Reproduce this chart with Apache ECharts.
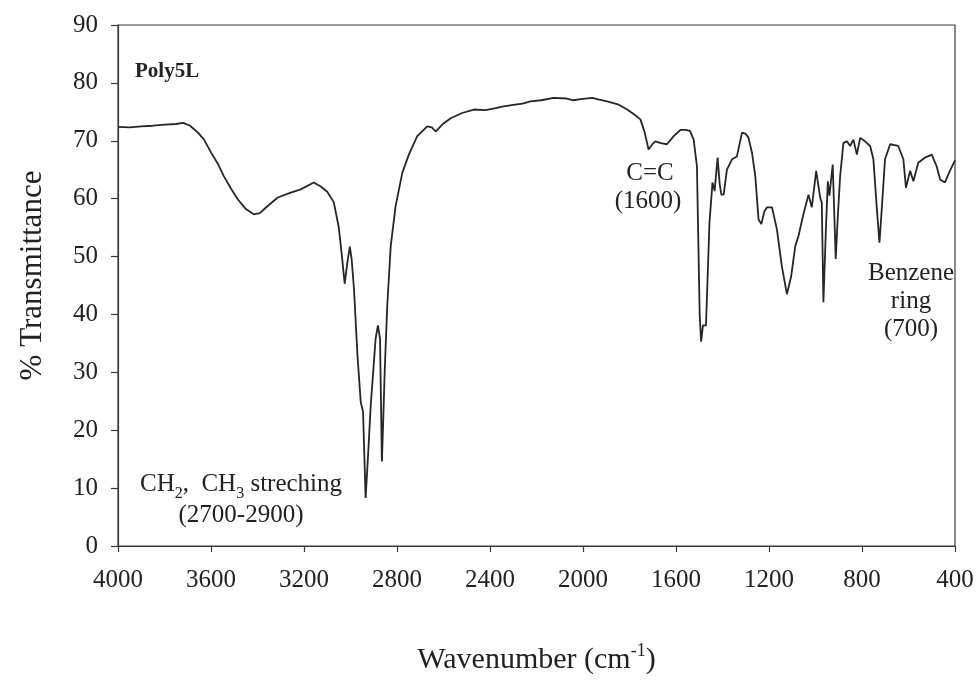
<!DOCTYPE html>
<html>
<head>
<meta charset="utf-8">
<script src="https://cdn.jsdelivr.net/npm/echarts@6/dist/echarts.min.js"></script>
<style>
html,body{margin:0;padding:0;background:#fff;}
#c{width:977px;height:680px;}
</style>
</head>
<body>
<div id="c"></div>
<script>
// Wavenumbers (cm-1)
var wavenumber = [
4000,3950,3900,3850,3800,3750,3720,3690,3656,3630,3600,3570,3545,3515,3485,3450,3416,3390,3360,3313,
3260,3214,3158,3128,3100,3072,3051,3038,3025,3015,3003,2995,2985,2970,2956,2946,2935,2924,2913,2892,
2882,2873,2867,2865,2859,2853,2842,2827,2806,2777,2749,2713,2670,2650,2634,2600,2569,2520,2469,2420,
2380,2347,2300,2260,2226,2180,2126,2070,2040,2011,1960,1930,1896,1850,1810,1775,1753,1735,1718,1700,
1689,1665,1639,1610,1580,1560,1540,1524,1510,1498,1492,1484,1471,1456,1443,1434,1421,1412,1405,1395,
1381,1359,1338,1316,1300,1288,1273,1259,1245,1233,1220,1209,1187,1166,1145,1123,1105,1087,1073,1052,
1030,1016,997,980,973,966,955,947,940,926,913,904,894,880,865,851,837,822,808,787,
765,751,736,725,715,701,679,644,622,611,593,579,558,529,500,479,464,443,422,400
];
// % Transmittance at each wavenumber
var transmittance = [
72.4,72.3,72.5,72.6,72.8,72.9,73.1,72.6,71.4,70.2,68.0,66.0,63.9,61.8,59.9,58.2,57.3,57.5,58.6,60.2,
61.0,61.6,62.8,62.1,61.2,59.4,55.2,50.5,45.3,48.5,51.7,49.5,44.4,32.9,24.9,23.2,8.3,16.0,24.3,35.8,
38.1,35.8,19.8,14.6,22.0,30.1,41.5,51.8,58.7,64.5,67.6,70.8,72.5,72.3,71.6,73.0,73.9,74.8,75.4,75.3,
75.6,75.9,76.2,76.4,76.8,77.0,77.4,77.3,77.0,77.2,77.4,77.1,76.8,76.3,75.4,74.4,73.7,71.5,68.5,69.5,
69.9,69.6,69.4,70.8,71.9,71.9,71.7,70.2,65.6,39.8,35.3,38.1,38.1,55.9,62.8,61.3,67.1,62.5,60.7,60.7,
65.0,66.8,67.3,71.4,71.2,70.5,67.9,63.9,56.4,55.6,57.8,58.5,58.5,54.7,48.4,43.5,46.5,51.8,53.6,57.3,
60.7,58.5,64.8,60.2,59.3,42.1,55.0,63.0,60.5,65.9,49.6,57.0,63.9,69.6,69.9,69.1,70.2,67.6,70.5,69.9,
69.1,66.8,58.2,52.4,58.2,66.8,69.4,69.1,66.8,61.9,64.8,63.0,66.2,67.1,67.6,65.6,63.3,62.8,64.8,66.6
];
var xTicks = { min: 400, max: 4000, interval: 400 };
var yTicks = { min: 0, max: 90, interval: 10 };

var FONT = '"Liberation Serif", "Times New Roman", serif';
var series = wavenumber.map(function (w, i) { return [w, transmittance[i]]; });

var chart = echarts.init(document.getElementById('c'), null, { renderer: 'canvas' });
chart.setOption({
  backgroundColor: '#ffffff',
  animation: false,
  grid: { left: 118, right: 22, top: 25, bottom: 132, show: true, borderColor: '#3a3a3a', borderWidth: 1.2, backgroundColor: 'transparent' },
  xAxis: {
    type: 'value', inverse: true,
    min: xTicks.min, max: xTicks.max, interval: xTicks.interval,
    name: '{a|Wavenumber (cm}{b|-1}{a|)}',
    nameLocation: 'middle', nameGap: 96,
    nameTextStyle: {
      rich: {
        a: { fontFamily: FONT, fontSize: 30, lineHeight: 36, color: '#222' },
        b: { fontFamily: FONT, fontSize: 18, lineHeight: 18, color: '#222', verticalAlign: 'top' }
      }
    },
    axisLine: { show: true, lineStyle: { color: '#3a3a3a', width: 1.2 } },
    axisTick: { show: true, inside: false, length: 6, lineStyle: { color: '#3a3a3a', width: 1.2 } },
    axisLabel: { fontFamily: FONT, fontSize: 25, color: '#222', margin: 22, showMinLabel: true, showMaxLabel: true,
      formatter: function (v) { return String(v); } },
    splitLine: { show: false }
  },
  yAxis: {
    type: 'value',
    min: yTicks.min, max: yTicks.max, interval: yTicks.interval,
    name: '% Transmittance',
    nameLocation: 'middle', nameGap: 70, nameRotate: 90,
    nameTextStyle: { fontFamily: FONT, fontSize: 31, color: '#222', padding: [0, 0, 0, 20] },
    axisLine: { show: true, lineStyle: { color: '#3a3a3a', width: 1.2 } },
    axisTick: { show: true, inside: false, length: 7, lineStyle: { color: '#3a3a3a', width: 1.2 } },
    axisLabel: { fontFamily: FONT, fontSize: 25, color: '#222', margin: 20 },
    splitLine: { show: false }
  },
  series: [{
    type: 'line',
    data: series,
    showSymbol: false,
    symbol: 'none',
    smooth: false,
    lineStyle: { color: '#262626', width: 1.8 }
  }],
  graphic: [
    { type: 'text', left: 135, top: 61, style: { text: 'Poly5L', fontFamily: FONT, fontSize: 21, fontWeight: 'bold', fill: '#222' } },
    { type: 'text', x: 650, y: 173, style: { text: 'C=C', fontFamily: FONT, fontSize: 25, fill: '#222', align: 'center', verticalAlign: 'middle' } },
    { type: 'text', x: 648, y: 201, style: { text: '(1600)', fontFamily: FONT, fontSize: 25, fill: '#222', align: 'center', verticalAlign: 'middle' } },
    { type: 'text', x: 911, y: 273, style: { text: 'Benzene', fontFamily: FONT, fontSize: 25, fill: '#222', align: 'center', verticalAlign: 'middle' } },
    { type: 'text', x: 911, y: 301, style: { text: 'ring', fontFamily: FONT, fontSize: 25, fill: '#222', align: 'center', verticalAlign: 'middle' } },
    { type: 'text', x: 911, y: 329, style: { text: '(700)', fontFamily: FONT, fontSize: 25, fill: '#222', align: 'center', verticalAlign: 'middle' } },
    { type: 'text', x: 241, y: 484, style: {
        text: '{n|CH}{s|2}{n|,  CH}{s|3}{n| streching}',
        align: 'center', verticalAlign: 'middle',
        rich: {
          n: { fontFamily: FONT, fontSize: 25, lineHeight: 36, fill: '#222', verticalAlign: 'middle' },
          s: { fontFamily: FONT, fontSize: 16, lineHeight: 14, fill: '#222', verticalAlign: 'bottom' }
        }
    } },
    { type: 'text', x: 241, y: 515, style: { text: '(2700-2900)', fontFamily: FONT, fontSize: 25, fill: '#222', align: 'center', verticalAlign: 'middle' } }
  ]
});
</script>
</body>
</html>
